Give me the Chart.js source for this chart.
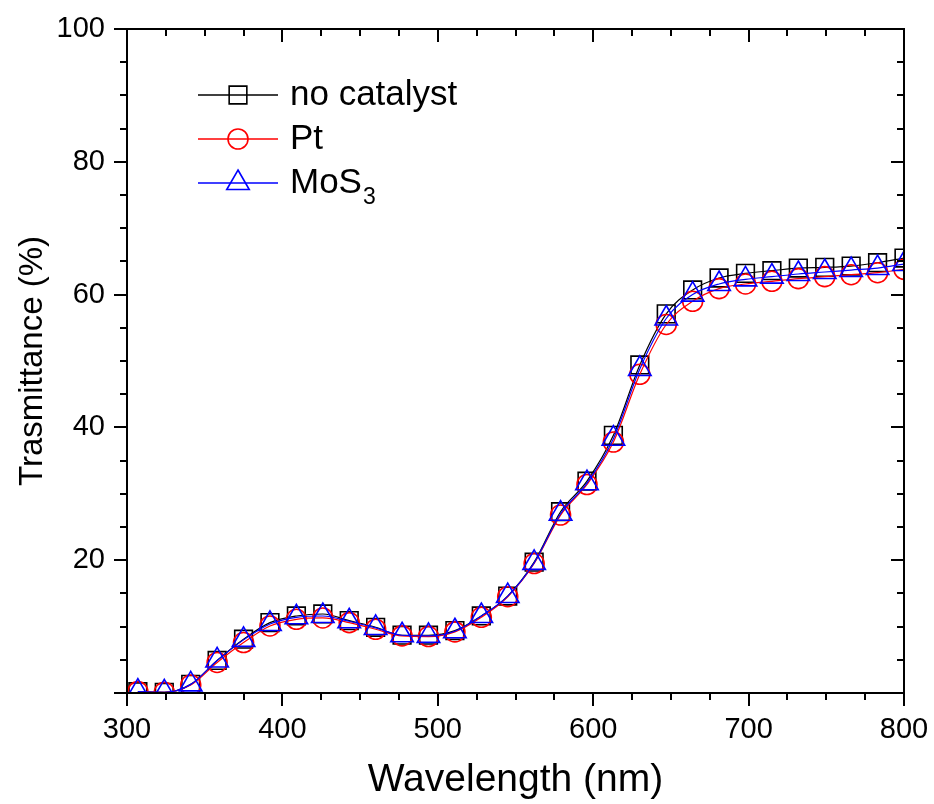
<!DOCTYPE html>
<html>
<head>
<meta charset="utf-8">
<script src="https://cdn.jsdelivr.net/npm/chart.js@4/dist/chart.umd.min.js"></script>
<style>
  html, body { margin: 0; padding: 0; background: #fff; }
  #chart { display: block; }
</style>
</head>
<body>
<canvas id="chart" width="934" height="804"></canvas>
<script>
// Wavelength (nm) of each measured point
const wavelengths = [307, 324, 341, 358, 375, 392, 409, 426, 443, 460, 477, 494, 511, 528, 545,
                     562, 579, 596, 613, 630, 647, 664, 681, 698, 715, 732, 749, 766, 783, 800];

// Transmittance (%) per sample
const noCatalyst = [0.2, 0.1, 1.3, 4.9, 8.1, 10.6, 11.6, 11.9, 10.9, 9.9, 8.7, 8.7, 9.4, 11.6, 14.6,
                    19.7, 27.3, 31.9, 38.8, 49.4, 57.1, 60.7, 62.5, 63.2, 63.6, 64.0, 64.1, 64.3, 64.8, 65.5];
const pt = [0.2, 0.1, 1.2, 4.6, 7.6, 10.1, 11.1, 11.3, 10.6, 9.6, 8.6, 8.5, 9.2, 11.4, 14.5,
            19.5, 26.8, 31.4, 37.8, 48.0, 55.5, 59.0, 60.9, 61.6, 62.0, 62.4, 62.7, 63.0, 63.3, 63.8];
const mos3 = [0.2, 0.1, 1.3, 4.9, 8.0, 10.4, 11.4, 11.6, 10.8, 9.8, 8.7, 8.6, 9.3, 11.6, 14.6,
              19.6, 27.0, 31.6, 38.3, 48.8, 56.4, 60.0, 61.6, 62.3, 62.7, 63.1, 63.4, 63.7, 64.0, 64.6];

// Axis ticks
const xTicks = [300, 400, 500, 600, 700, 800];
const yTicks = [20, 40, 60, 80, 100];
const xMinorStep = 25;
const yMinorStep = 5;

const FONT = 'Arial, "Liberation Sans", sans-serif';

function toPoints(ys) {
    return wavelengths.map((w, i) => ({ x: w, y: ys[i] }));
}

function series(label, ys, color, style, radius, order) {
    return {
        label: label,
        data: toPoints(ys),
        borderColor: color,
        borderWidth: 1.2,
        backgroundColor: 'transparent',
        pointStyle: style,
        pointRadius: radius,
        pointHoverRadius: radius,
        pointBorderColor: color,
        pointBackgroundColor: 'rgba(0,0,0,0)',
        pointBorderWidth: 1.6,
        cubicInterpolationMode: 'monotone',
        order: order
    };
}

// Frame and tick marks (outward on bottom/left, mirrored inward on top/right)
const axisFrame = {
    id: 'axisFrame',
    afterDraw(chart) {
        const { ctx, chartArea: a, scales } = chart;
        const x = scales.x, y = scales.y;
        ctx.save();
        ctx.strokeStyle = '#000';
        ctx.lineWidth = 2;
        ctx.strokeRect(a.left, a.top, a.right - a.left, a.bottom - a.top);
        ctx.beginPath();
        for (let v = xTicks[0]; v <= xTicks[xTicks.length - 1]; v += xMinorStep) {
            const px = Math.round(x.getPixelForValue(v));
            const len = xTicks.includes(v) ? 13 : 7;
            ctx.moveTo(px, a.bottom); ctx.lineTo(px, a.bottom + len);
            ctx.moveTo(px, a.top); ctx.lineTo(px, a.top + len);
        }
        for (let v = 0; v <= 100; v += yMinorStep) {
            const py = Math.round(y.getPixelForValue(v));
            const len = v % 20 === 0 ? 13 : 7;
            ctx.moveTo(a.left, py); ctx.lineTo(a.left - len, py);
            ctx.moveTo(a.right, py); ctx.lineTo(a.right - len, py);
        }
        ctx.stroke();
        ctx.restore();
    }
};

// Legend drawn as line + hollow marker + label, MoS3 with subscript
const lineLegend = {
    id: 'lineLegend',
    afterDraw(chart) {
        const ctx = chart.ctx;
        const x0 = 198, x1 = 278, textX = 290;
        const rows = [95, 139, 183];
        ctx.save();
        chart.data.datasets.forEach((ds, i) => {
            const yy = rows[i];
            ctx.strokeStyle = ds.borderColor;
            ctx.lineWidth = 1.5;
            ctx.beginPath();
            ctx.moveTo(x0, yy); ctx.lineTo(x1, yy);
            ctx.stroke();
            ctx.fillStyle = 'rgba(0,0,0,0)';
            ctx.lineWidth = ds.pointBorderWidth;
            Chart.helpers.drawPoint(ctx, {
                pointStyle: ds.pointStyle,
                radius: ds.pointRadius,
                borderWidth: ds.pointBorderWidth,
                rotation: 0
            }, (x0 + x1) / 2, yy);
            ctx.fillStyle = '#000';
            ctx.textBaseline = 'middle';
            ctx.textAlign = 'left';
            ctx.font = '35px ' + FONT;
            if (ds.label === 'MoS3') {
                ctx.fillText('MoS', textX, yy);
                const w = ctx.measureText('MoS').width;
                ctx.font = '23px ' + FONT;
                ctx.fillText('3', textX + w + 1, yy + 15);
            } else {
                ctx.fillText(ds.label, textX, yy);
            }
        });
        ctx.restore();
    }
};

new Chart(document.getElementById('chart'), {
    type: 'line',
    data: {
        datasets: [
            series('no catalyst', noCatalyst, '#000000', 'rect', 12.5, 3),
            series('Pt', pt, '#ff0000', 'circle', 10, 2),
            series('MoS3', mos3, '#0000ff', 'triangle', 13, 1)
        ]
    },
    options: {
        responsive: false,
        devicePixelRatio: 1,
        animation: false,
        layout: { padding: { top: 29, right: 30, left: 0, bottom: 0 } },
        plugins: {
            legend: { display: false },
            tooltip: { enabled: false }
        },
        scales: {
            x: {
                type: 'linear',
                min: 300,
                max: 800,
                afterFit: (s) => {
                    s.height = 111;
                    s.paddingLeft = 0; s.paddingRight = 0;
                },
                afterBuildTicks: (s) => { s.ticks = xTicks.map(v => ({ value: v })); },
                grid: { display: false, drawTicks: false },
                border: { display: false },
                ticks: {
                    color: '#000',
                    font: { family: FONT, size: 29 },
                    padding: 20,
                    maxRotation: 0
                },
                title: {
                    display: true,
                    text: 'Wavelength (nm)',
                    color: '#000',
                    font: { family: FONT, size: 39, lineHeight: 1.2 },
                    padding: { top: 0, bottom: 0 }
                }
            },
            y: {
                type: 'linear',
                min: 0,
                max: 100,
                afterFit: (s) => {
                    s.width = 127;
                    s.paddingTop = 0; s.paddingBottom = 0;
                },
                afterBuildTicks: (s) => { s.ticks = yTicks.map(v => ({ value: v })); },
                grid: { display: false, drawTicks: false },
                border: { display: false },
                ticks: {
                    color: '#000',
                    font: { family: FONT, size: 29 },
                    padding: 22
                },
                title: {
                    display: true,
                    text: 'Trasmittance (%)',
                    color: '#000',
                    font: { family: FONT, size: 33, lineHeight: 1.2 },
                    padding: { top: 13, bottom: 0 }
                }
            }
        }
    },
    plugins: [axisFrame, lineLegend]
});
</script>
</body>
</html>
